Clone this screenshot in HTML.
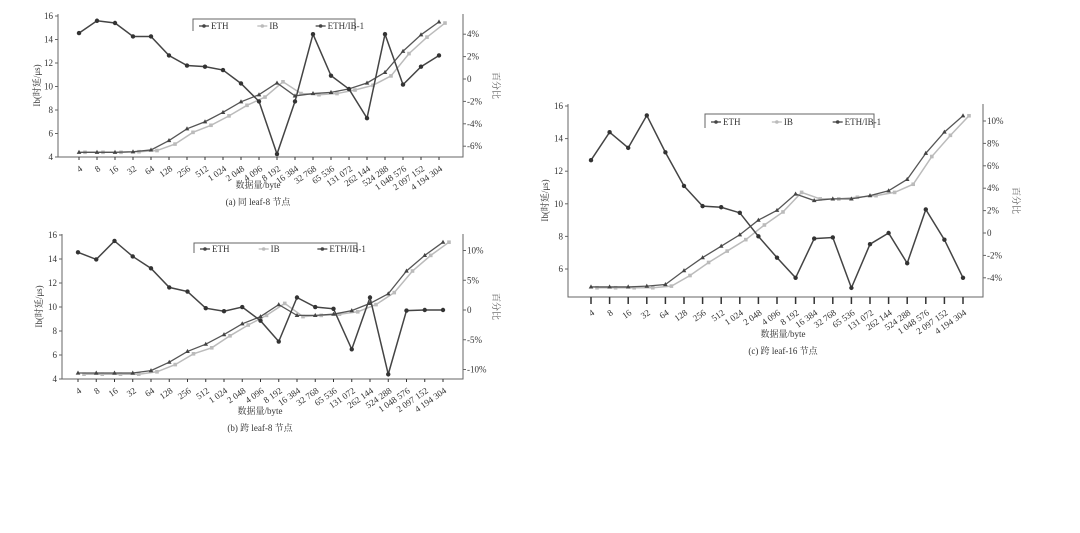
<!DOCTYPE html>
<html><head><meta charset="utf-8">
<style>
html,body{margin:0;padding:0;background:#fff;}
svg{display:block;font-family:"Liberation Serif","Noto Serif CJK SC",serif;}
</style></head>
<body>
<svg id="fig" width="1080" height="533" viewBox="0 0 1080 533" xmlns="http://www.w3.org/2000/svg"></svg>
<script>
const categories = ["4","8","16","32","64","128","256","512","1 024","2 048","4 096","8 192","16 384","32 768","65 536","131 072","262 144","524 288","1 048 576","2 097 152","4 194 304"];
const ethA = [4.4,4.4,4.4,4.45,4.6,5.4,6.4,7.0,7.8,8.7,9.3,10.3,9.2,9.4,9.5,9.8,10.3,11.2,13.0,14.4,15.5];
const ibA  = [4.4,4.4,4.4,4.45,4.55,5.1,6.1,6.7,7.5,8.4,9.1,10.4,9.4,9.3,9.4,9.7,10.1,10.9,12.8,14.2,15.4];
const ratioA = [4.1,5.2,5.0,3.8,3.8,2.1,1.2,1.1,0.8,-0.4,-2.0,-6.7,-2.0,4.0,0.3,-0.9,-3.5,4.0,-0.5,1.1,2.1];
const ethB = [4.5,4.5,4.5,4.5,4.7,5.4,6.3,6.9,7.7,8.6,9.2,10.2,9.3,9.3,9.4,9.7,10.3,11.1,13.0,14.3,15.4];
const ibB  = [4.4,4.4,4.4,4.4,4.6,5.2,6.1,6.6,7.6,8.5,9.3,10.3,9.2,9.3,9.4,9.6,10.2,11.2,13.0,14.3,15.4];
const ratioB = [9.7,8.5,11.6,9.0,7.0,3.8,3.1,0.3,-0.2,0.5,-1.8,-5.3,2.1,0.5,0.2,-6.6,2.1,-10.8,-0.1,0,0];
const ethC = [4.9,4.9,4.9,4.95,5.05,5.9,6.7,7.4,8.1,9.0,9.6,10.6,10.2,10.3,10.3,10.5,10.8,11.5,13.1,14.4,15.4];
const ibC  = [4.85,4.85,4.85,4.85,4.95,5.6,6.4,7.1,7.8,8.7,9.5,10.7,10.3,10.3,10.4,10.5,10.7,11.2,12.9,14.2,15.4];
const ratioC = [6.5,9.0,7.6,10.5,7.2,4.2,2.4,2.3,1.8,-0.3,-2.2,-4.0,-0.5,-0.4,-4.9,-1.0,0.0,-2.7,2.1,-0.6,-4.0];
const leftTicksAB = [4,6,8,10,12,14,16];
const leftTicksC = [6,8,10,12,14,16];
const rightTicksA = [-6,-4,-2,0,2,4];
const rightTicksB = [-10,-5,0,5,10];
const rightTicksC = [-4,-2,0,2,4,6,8,10];

const NS="http://www.w3.org/2000/svg";
const svg=document.getElementById('fig');
function mk(tag,attrs,parent,text){
  const e=document.createElementNS(NS,tag);
  for(const k in attrs)e.setAttribute(k,attrs[k]);
  if(text!==undefined)e.textContent=text;
  (parent||svg).appendChild(e);return e;
}
function pctLabel(v){return v===0?"0":(v+"%");}

function drawChart(id,L,eth,ib,ratio,lt,rt,caption,rightFmt){
  const g=mk('g',{});
  
  
  const x=i=>L.x0+(L.x1-L.x0)*i/(categories.length-1);
  const yL=v=>L.yTop+(L.vTop-v)*(L.yBot-L.yTop)/(L.vTop-L.vBot);
  const yR=v=>L.r0+(-v)*L.rs;
  // axes
  const ax=mk('path',{d:`M${L.left},${L.top} V${L.bottom} H${L.right} V${L.top}`,fill:'none',stroke:'#666','stroke-width':1},g);
  
  
  lt.forEach(v=>{
    mk('line',{x1:L.left-3,x2:L.left,y1:yL(v),y2:yL(v),stroke:'#666'},g);
    const t=mk('text',{x:L.left-5,y:yL(v)+3,'font-size':9,'text-anchor':'end',fill:'#333'},g,String(v));
    
    
  });
  rt.forEach(v=>{
    mk('line',{x1:L.right,x2:L.right+3,y1:yR(v),y2:yR(v),stroke:'#666'},g);
    const t=mk('text',{x:L.right+4,y:yR(v)+3,'font-size':9,fill:'#333'},g,rightFmt(v));
    
    
  });
  categories.forEach((c,i)=>{
    mk('line',{x1:x(i),x2:x(i),y1:L.bottom,y2:L.bottom+(L.tickLen||3),stroke:'#333','stroke-width':L.tickW||1},g);
    const tx=x(i)+4, ty=L.bottom+(L.tickLen||3)+10;
    const t=mk('text',{x:tx,y:ty,'font-size':9,'text-anchor':'end',fill:'#333',transform:`rotate(-35 ${tx} ${ty})`},g,c);
    
    
  });
  // series
  const off=L.ibOff;
  const pIB=ib.map((v,i)=>[x(i)+off,yL(v)]);
  const lib=mk('polyline',{points:pIB.map(p=>p.join(',')).join(' '),fill:'none',stroke:'#bbb','stroke-width':1.5},g);
  
  
  pIB.forEach(p=>{const m=mk('rect',{x:p[0]-1.8,y:p[1]-1.8,width:3.6,height:3.6,fill:'#bbb'},g);
    
    });
  const pE=eth.map((v,i)=>[x(i),yL(v)]);
  const le=mk('polyline',{points:pE.map(p=>p.join(',')).join(' '),fill:'none',stroke:'#555','stroke-width':1.3},g);
  
  
  pE.forEach(p=>{const m=mk('path',{d:`M${p[0]},${p[1]-2.5} L${p[0]+2.3},${p[1]+1.6} L${p[0]-2.3},${p[1]+1.6}Z`,fill:'#444'},g);
    
    });
  const pR=ratio.map((v,i)=>[x(i),yR(v)]);
  const lr=mk('polyline',{points:pR.map(p=>p.join(',')).join(' '),fill:'none',stroke:'#444','stroke-width':1.5},g);
  
  
  pR.forEach(p=>{const m=mk('circle',{cx:p[0],cy:p[1],r:2.2,fill:'#333'},g);
    
    });
  // legend
  const lg=mk('g',{},g);
  
  
  mk('path',{d:`M${L.lgX0},${L.lgY1} V${L.lgY0} H${L.lgX1} V${L.lgY1}`,fill:'none',stroke:'#666'},lg);
  const w=(L.lgX1-L.lgX0);const ly=(L.lgY0+L.lgY1)/2+1;
  [["ETH","#444"],["IB","#bbb"],["ETH/IB-1","#444"]].forEach((s,k)=>{
    const sx=L.lgX0+6+k*w*0.36;
    mk('line',{x1:sx,x2:sx+10,y1:ly,y2:ly,stroke:s[1],'stroke-width':1.3},lg);
    mk('circle',{cx:sx+5,cy:ly,r:1.8,fill:s[1]},lg);
    const t=mk('text',{x:sx+12,y:ly+3,'font-size':9,fill:'#333'},lg,s[0]);
    
    
  });
  // titles
  const yt=mk('text',{x:L.yTitleX,y:(L.top+L.bottom)/2,'font-size':9,'text-anchor':'middle',fill:'#333',transform:`rotate(-90 ${L.yTitleX} ${(L.top+L.bottom)/2})`},g,"Ib(时延/μs)");
  
  
  const rx=L.right+30;
  const rtt=mk('text',{x:rx,y:(L.top+L.bottom)/2,'font-size':9,'text-anchor':'middle',fill:'#555',transform:`rotate(90 ${rx} ${(L.top+L.bottom)/2})`},g,"百分比");
  
  
  const xt=mk('text',{x:L.xTitleX,y:L.xTitleY,'font-size':9,'text-anchor':'middle',fill:'#333'},g,"数据量/byte");
  
  
  const cp=mk('text',{x:L.xTitleX,y:L.xTitleY+17,'font-size':9,'text-anchor':'middle',fill:'#333'},g,caption);
  
  
}

drawChart('a',{left:58,right:463,top:14,bottom:157,x0:79,x1:439,yTop:16,vTop:16,yBot:157,vBot:4,r0:79,rs:11.2,ibOff:6,
  lgX0:193,lgX1:355,lgY0:19,lgY1:31,yTitleX:40,xTitleX:258,xTitleY:188},ethA,ibA,ratioA,leftTicksAB,rightTicksA,"(a) 同 leaf-8 节点",pctLabel);
drawChart('b',{left:62,right:463,top:234,bottom:379,x0:78,x1:443,yTop:235,vTop:16,yBot:379,vBot:4,r0:310,rs:5.95,ibOff:6,
  lgX0:194,lgX1:357,lgY0:243,lgY1:253,yTitleX:42,xTitleX:260,xTitleY:414},ethB,ibB,ratioB,leftTicksAB,rightTicksB,"(b) 跨 leaf-8 节点",pctLabel);
drawChart('c',{left:568,right:983,top:104,bottom:297,x0:591,x1:963,yTop:106,vTop:16,yBot:269,vBot:6,r0:233,rs:11.2,ibOff:6,tickLen:7,tickW:1.5,
  lgX0:705,lgX1:874,lgY0:114,lgY1:128,yTitleX:548,xTitleX:783,xTitleY:337},ethC,ibC,ratioC,leftTicksC,rightTicksC,"(c) 跨 leaf-16 节点",pctLabel);
</script>
</body></html>
